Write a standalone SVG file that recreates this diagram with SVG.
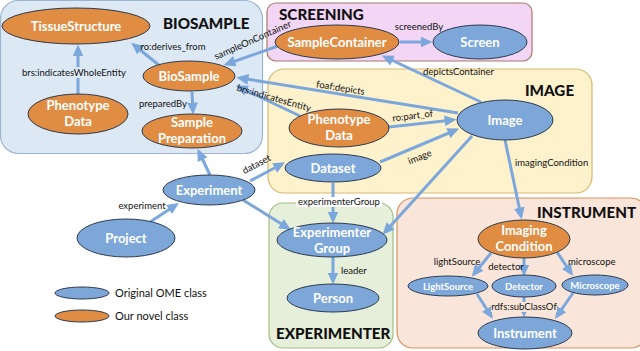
<svg xmlns="http://www.w3.org/2000/svg" width="640" height="351" viewBox="0 0 640 351">
<style>
.box{stroke-width:1.2}
.title{font-family:Lato,"Liberation Sans",sans-serif;font-weight:900;font-size:15.2px;fill:#111}
.blue{fill:#7DA7D9;stroke:#2E3B4E;stroke-width:1}
.orange{fill:#E08D43;stroke:#2E3B4E;stroke-width:1}
.nl{font-family:Lato,"Liberation Sans",sans-serif;font-weight:700;font-size:13px;fill:#fff;text-anchor:middle}
.ns{font-family:Lato,"Liberation Sans",sans-serif;font-weight:700;font-size:9.5px;fill:#fff;text-anchor:middle}
.e{stroke:#7BA7DC;stroke-width:3;fill:none;marker-end:url(#ah)}
.el{font-family:Lato,"Liberation Sans",sans-serif;font-size:9.5px;fill:#111}
.lg{font-family:Lato,"Liberation Sans",sans-serif;font-size:11px;fill:#111}
</style>
<defs>
<marker id="ah" markerUnits="userSpaceOnUse" markerWidth="12" markerHeight="12" viewBox="0 0 10 10" refX="7" refY="5" orient="auto">
<path d="M0,0.5 L10,5 L0,9.5 Z" fill="#7BA7DC"/>
</marker>
</defs>
<rect width="640" height="351" fill="#fff"/>
<g id="groups">
<rect class="box" x="0.5" y="0.5" width="262" height="153" rx="18" fill="#DDE8F5" stroke="#9DB5D3"/>
<rect class="box" x="267" y="3" width="265" height="58" rx="9" fill="#F3D6F6" stroke="#A87A6A"/>
<rect class="box" x="268" y="69" width="324" height="124" rx="16" fill="#FEF2CC" stroke="#D8B870"/>
<rect class="box" x="269" y="203" width="124" height="145" rx="14" fill="#E6EFD9" stroke="#A5BE85"/>
<rect class="box" x="397" y="198" width="250" height="150" rx="16" fill="#F9E5D9" stroke="#D9925E"/>
<text class="title" x="163" y="29">BIOSAMPLE</text>
<text class="title" x="279" y="20">SCREENING</text>
<text class="title" x="525" y="96">IMAGE</text>
<text class="title" x="537" y="218">INSTRUMENT</text>
<text class="title" x="276" y="339">EXPERIMENTER</text>
</g>
<g id="connectors">
<line class="e" x1="160" y1="66" x2="134" y2="45"/>
<line class="e" x1="78" y1="94" x2="78" y2="48"/>
<line class="e" x1="192" y1="92" x2="193" y2="111"/>
<line class="e" x1="278" y1="46" x2="227" y2="64"/>
<line class="e" x1="458" y1="113" x2="240" y2="78"/>
<line class="e" x1="300" y1="116" x2="239" y2="87"/>
<line class="e" x1="389" y1="127" x2="453" y2="120"/>
<line class="e" x1="380" y1="162" x2="456" y2="130"/>
<line class="e" x1="481" y1="102" x2="385" y2="57"/>
<line class="e" x1="400" y1="42" x2="429" y2="42"/>
<line class="e" x1="505" y1="140" x2="521" y2="216"/>
<line class="e" x1="210" y1="175" x2="199" y2="152"/>
<line class="e" x1="250" y1="181" x2="282" y2="164"/>
<line class="e" x1="243" y1="200" x2="288" y2="228"/>
<line class="e" x1="333" y1="183" x2="333" y2="220"/>
<line class="e" x1="472" y1="136" x2="385" y2="232"/>
<line class="e" x1="150" y1="222" x2="176" y2="205"/>
<line class="e" x1="333" y1="257" x2="333" y2="281"/>
<line class="e" x1="491" y1="253" x2="474" y2="274"/>
<line class="e" x1="524" y1="258" x2="524" y2="273"/>
<line class="e" x1="557" y1="252" x2="571" y2="273"/>
<line class="e" x1="477" y1="294" x2="491" y2="316"/>
<line class="e" x1="524" y1="297" x2="524" y2="314"/>
<line class="e" x1="573" y1="293" x2="557" y2="316"/>
<text class="el" x="173" y="50" text-anchor="middle">ro:derives_from</text>
<rect x="21" y="67" width="106" height="11" fill="#DDE8F5"/>
<text class="el" x="74" y="76" text-anchor="middle">brs:indicatesWholeEntity</text>
<text class="el" x="187" y="107" text-anchor="end">preparedBy</text>
<text class="el" x="0" y="0" text-anchor="middle" transform="translate(254,43) rotate(-24)">sampleOnContainer</text>
<text class="el" x="0" y="0" text-anchor="middle" transform="translate(340,91) rotate(9)">foaf:depicts</text>
<text class="el" x="0" y="0" text-anchor="middle" transform="translate(273,101) rotate(16)">brs:indicatesEntity</text>
<text class="el" x="0" y="0" text-anchor="middle" transform="translate(413,119) rotate(-7)">ro:part_of</text>
<text class="el" x="0" y="0" text-anchor="middle" transform="translate(421,160) rotate(-22)">image</text>
<text class="el" x="423" y="75">depictsContainer</text>
<text class="el" x="419" y="30" text-anchor="middle">screenedBy</text>
<text class="el" x="515" y="166">imagingCondition</text>
<text class="el" x="0" y="0" text-anchor="middle" transform="translate(258,167) rotate(-28)">dataset</text>
<rect x="296" y="197" width="86" height="10" fill="#fff"/>
<text class="el" x="339" y="205" text-anchor="middle">experimenterGroup</text>
<text class="el" x="142" y="209" text-anchor="middle">experiment</text>
<text class="el" x="341" y="274">leader</text>
<text class="el" x="457" y="265" text-anchor="middle">lightSource</text>
<text class="el" x="506" y="270" text-anchor="middle">detector</text>
<text class="el" x="568" y="265">microscope</text>
<rect x="491" y="302" width="66" height="10" fill="#F9E5D9"/>
<text class="el" x="524" y="310" text-anchor="middle">rdfs:subClassOf</text>
</g>
<g id="TissueStructure"><ellipse class="orange" cx="76" cy="26" rx="74" ry="18"/><text class="nl" x="76" y="31">TissueStructure</text></g>
<g id="BioSample"><ellipse class="orange" cx="189" cy="76" rx="46" ry="15"/><text class="nl" x="189" y="81">BioSample</text></g>
<g id="PhenotypeData1"><ellipse class="orange" cx="78" cy="114" rx="50" ry="20"/><text class="nl" x="78" y="110">Phenotype</text><text class="nl" x="78" y="126">Data</text></g>
<g id="SamplePreparation"><ellipse class="orange" cx="192" cy="131" rx="50" ry="17"/><text class="nl" x="192" y="127">Sample</text><text class="nl" x="192" y="143">Preparation</text></g>
<g id="SampleContainer"><ellipse class="orange" cx="337" cy="42" rx="62" ry="17"/><text class="nl" x="337" y="47">SampleContainer</text></g>
<g id="Screen"><ellipse class="blue" cx="480" cy="42" rx="47" ry="17"/><text class="nl" x="480" y="47">Screen</text></g>
<g id="Image"><ellipse class="blue" cx="505" cy="120" rx="48" ry="20"/><text class="nl" x="505" y="125">Image</text></g>
<g id="PhenotypeData2"><ellipse class="orange" cx="339" cy="128" rx="50" ry="19"/><text class="nl" x="339" y="124">Phenotype</text><text class="nl" x="339" y="140">Data</text></g>
<g id="Dataset"><ellipse class="blue" cx="333" cy="168" rx="48" ry="14"/><text class="nl" x="333" y="173">Dataset</text></g>
<g id="Experiment"><ellipse class="blue" cx="209" cy="190" rx="46" ry="15"/><text class="nl" x="209" y="195">Experiment</text></g>
<g id="Project"><ellipse class="blue" cx="126" cy="238" rx="49" ry="19"/><text class="nl" x="126" y="243">Project</text></g>
<g id="ExperimenterGroup"><ellipse class="blue" cx="332" cy="240" rx="55" ry="17"/><text class="nl" x="332" y="237">Experimenter</text><text class="nl" x="332" y="253">Group</text></g>
<g id="Person"><ellipse class="blue" cx="333" cy="298" rx="46" ry="14"/><text class="nl" x="333" y="303">Person</text></g>
<g id="ImagingCondition"><ellipse class="orange" cx="524" cy="239" rx="46" ry="19"/><text class="nl" x="524" y="235">Imaging</text><text class="nl" x="524" y="251">Condition</text></g>
<g id="LightSource"><ellipse class="blue" cx="448" cy="286" rx="40" ry="10"/><text class="ns" x="448" y="289.5">LightSource</text></g>
<g id="Detector"><ellipse class="blue" cx="524" cy="286" rx="32" ry="11"/><text class="ns" x="524" y="289.5">Detector</text></g>
<g id="Microscope"><ellipse class="blue" cx="595" cy="285" rx="33" ry="10"/><text class="ns" x="595" y="288.5">Microscope</text></g>
<g id="Instrument"><ellipse class="blue" cx="525" cy="333" rx="47" ry="16"/><text class="nl" x="525" y="338">Instrument</text></g>
<g id="legend">
<ellipse class="blue" cx="82" cy="293" rx="27" ry="6"/>
<text class="lg" x="115" y="297">Original OME class</text>
<ellipse class="orange" cx="82" cy="316" rx="27" ry="6"/>
<text class="lg" x="115" y="320">Our novel class</text>
</g>
</svg>
